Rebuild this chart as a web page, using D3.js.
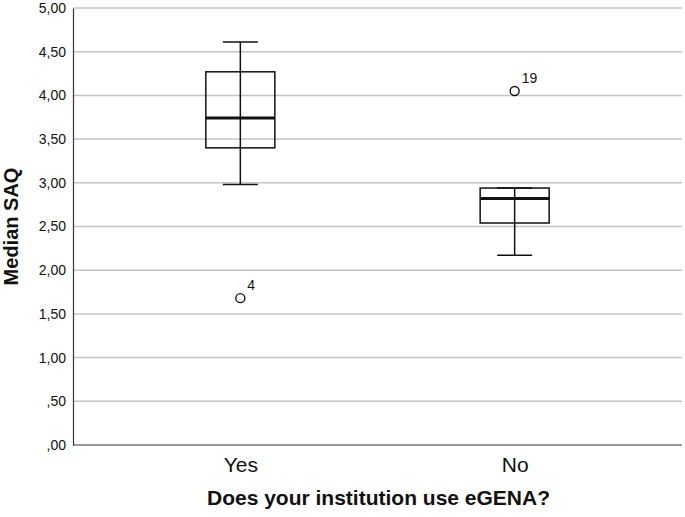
<!DOCTYPE html>
<html>
<head>
<meta charset="utf-8">
<script src="https://cdn.jsdelivr.net/npm/d3@7"></script>
<style>
  body { margin: 0; background: #fff; }
  text { font-family: "Liberation Sans", Arial, sans-serif; }
</style>
</head>
<body>
<div id="chart"></div>
<script>
// categories and box statistics
var categories = ["Yes", "No"];
var whiskerLow  = [2.98, 2.17];
var q1          = [3.40, 2.54];
var medians     = [3.74, 2.82];
var q3          = [4.27, 2.94];
var whiskerHigh = [4.61, 2.94];
var outlierCat   = ["Yes", "No"];
var outlierValue = [1.68, 4.05];
var outlierLabel = ["4", "19"];
var yTicks = [0, 0.5, 1, 1.5, 2, 2.5, 3, 3.5, 4, 4.5, 5];

// set the dimensions and margins of the graph
var margin = {top: 8, right: 3, bottom: 72, left: 73},
    width = 685 - margin.left - margin.right,
    height = 517 - margin.top - margin.bottom;

var x = d3.scalePoint()
          .domain(categories)
          .range([0, width])
          .padding(0.61);

var y = d3.scaleLinear()
          .domain([0, 5])
          .range([height, 0]);

var fmt = function(d) {
  var s = d3.format(".2f")(d).replace(".", ",");
  return s.charAt(0) === "0" ? s.slice(1) : s;
};

var svg = d3.select("#chart").append("svg")
    .attr("width", 685)
    .attr("height", 517);

var g = svg.append("g")
    .attr("transform", "translate(" + margin.left + "," + margin.top + ")");

// gridlines
g.selectAll(".grid")
    .data(yTicks.filter(function(d) { return d > 0; }))
  .enter().append("line")
    .attr("x1", 0).attr("x2", width)
    .attr("y1", function(d) { return y(d); })
    .attr("y2", function(d) { return y(d); })
    .style("stroke", "#c4c4c4")
    .style("stroke-width", 1.5);

// y axis
var yAxis = g.append("g")
    .call(d3.axisLeft(y).tickValues(yTicks).tickFormat(fmt).tickSize(0).tickPadding(7));
yAxis.select(".domain").style("stroke", "#333").style("stroke-width", 1.2);
yAxis.selectAll("text").style("font-size", "14px").style("fill", "#111")
    .style("font-family", "Liberation Sans, Arial, sans-serif");

// x axis
var xAxis = g.append("g")
    .attr("transform", "translate(0," + height + ")")
    .call(d3.axisBottom(x).tickSize(0).tickPadding(12));
xAxis.select(".domain").attr("d", "M0,0H" + width).style("stroke", "#333").style("stroke-width", 1.2);
xAxis.selectAll("text").style("font-size", "21px").style("fill", "#111")
    .style("font-family", "Liberation Sans, Arial, sans-serif");

// box plots
var boxW = 69, capW = 35;
var boxes = g.selectAll(".box")
    .data(categories)
  .enter().append("g")
    .attr("class", "box");

boxes.append("line")
    .attr("x1", function(d) { return x(d); })
    .attr("x2", function(d) { return x(d); })
    .attr("y1", function(d, i) { return y(whiskerHigh[i]); })
    .attr("y2", function(d, i) { return y(whiskerLow[i]); })
    .style("stroke", "#111").style("stroke-width", 1.5);

boxes.append("rect")
    .attr("x", function(d) { return x(d) - boxW / 2; })
    .attr("y", function(d, i) { return y(q3[i]); })
    .attr("width", boxW)
    .attr("height", function(d, i) { return y(q1[i]) - y(q3[i]); })
    .style("fill", "none")
    .style("stroke", "#111").style("stroke-width", 1.5);

boxes.append("line")
    .attr("x1", function(d) { return x(d) - boxW / 2; })
    .attr("x2", function(d) { return x(d) + boxW / 2; })
    .attr("y1", function(d, i) { return y(medians[i]); })
    .attr("y2", function(d, i) { return y(medians[i]); })
    .style("stroke", "#111").style("stroke-width", 3);

[whiskerHigh, whiskerLow].forEach(function(arr) {
  boxes.append("line")
      .attr("x1", function(d) { return x(d) - capW / 2; })
      .attr("x2", function(d) { return x(d) + capW / 2; })
      .attr("y1", function(d, i) { return y(arr[i]); })
      .attr("y2", function(d, i) { return y(arr[i]); })
      .style("stroke", "#111").style("stroke-width", 1.5);
});

// outliers
g.selectAll(".outlier")
    .data(outlierValue)
  .enter().append("circle")
    .attr("cx", function(d, i) { return x(outlierCat[i]); })
    .attr("cy", function(d) { return y(d); })
    .attr("r", 4.5)
    .style("fill", "#fff")
    .style("stroke", "#111").style("stroke-width", 1.4);

g.selectAll(".outlabel")
    .data(outlierValue)
  .enter().append("text")
    .attr("x", function(d, i) { return x(outlierCat[i]) + 7; })
    .attr("y", function(d) { return y(d) - 8; })
    .style("font-size", "14px")
    .style("fill", "#111")
    .text(function(d, i) { return outlierLabel[i]; });

// axis titles
svg.append("text")
    .attr("transform", "translate(18," + (margin.top + height / 2) + ") rotate(-90)")
    .attr("text-anchor", "middle")
    .style("font-size", "20px")
    .style("font-weight", "bold")
    .style("fill", "#111")
    .text("Median SAQ");

svg.append("text")
    .attr("x", margin.left + x.range()[1] / 2 + 1)
    .attr("y", 505)
    .attr("text-anchor", "middle")
    .style("font-size", "21px")
    .style("font-weight", "bold")
    .style("fill", "#111")
    .text("Does your institution use eGENA?");
</script>
</body>
</html>
